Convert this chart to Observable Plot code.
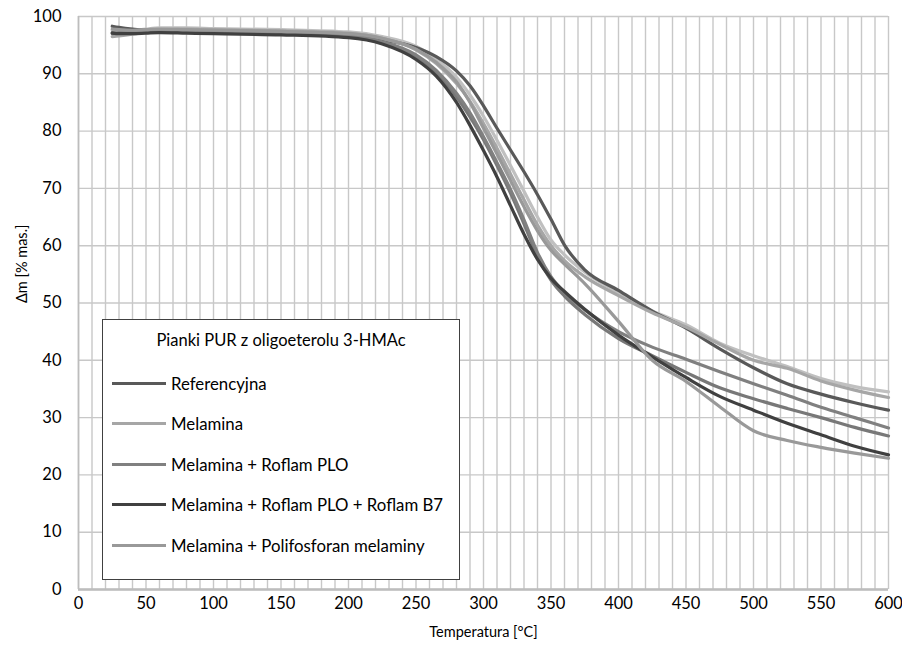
<!DOCTYPE html>
<html>
<head>
<meta charset="utf-8">
<script src="https://cdn.jsdelivr.net/npm/d3@7"></script>
<script src="https://cdn.jsdelivr.net/npm/@observablehq/plot@0.6"></script>
<style>
  html, body { margin: 0; padding: 0; background: #fff; }
  #wrap { position: relative; width: 902px; height: 659px; font-family: Lato, "Open Sans", sans-serif; }
  #legend { position: absolute; left: 102px; top: 319px; width: 358px; height: 261px; background: #fff; border: 1px solid #404040; box-sizing: border-box; color: #000; }
  #legend .title { position: absolute; left: 0; width: 100%; top: 10px; text-align: center; font-size: 16.5px; }
  #legend .item { position: absolute; left: 9px; height: 22px; display: flex; align-items: center; font-size: 16.8px; white-space: nowrap; }
  #legend .sw { width: 54px; height: 3px; margin-right: 5px; }
</style>
</head>
<body>
<div id="wrap"></div>
<script>
// temperatures [°C]
const temps = [25,30,40,50,60,80,100,150,200,225,250,265,280,290,300,310,320,330,340,350,360,375,400,425,450,475,500,525,550,575,600];
// mass [% mas.] per series
const referencyjna = [98.3,98.1,97.8,97.6,97.5,97.3,97.2,97.0,96.6,95.9,94.6,93.0,90.5,87.9,84.4,80.5,76.7,72.9,68.9,64.6,60.1,55.8,52.2,48.6,45.6,42.0,38.7,35.9,34.1,32.6,31.3];
const melamina = [96.5,96.6,96.9,97.3,97.7,97.8,97.7,97.5,97.1,96.2,94.2,91.8,88.3,85.2,81.3,77.0,72.5,68.0,63.6,60.0,57.4,54.6,51.3,48.3,45.8,42.8,40.0,38.6,36.4,34.8,33.5];
const melaminaB = [97.6,97.4,97.5,97.8,98.0,98.0,97.9,97.7,97.3,96.5,94.8,92.6,89.4,86.3,82.6,78.4,74.0,69.5,65.0,61.0,58.4,55.4,51.8,48.6,46.2,43.0,40.8,38.9,36.8,35.4,34.5];
const melPlo = [97.0,97.2,97.4,97.5,97.5,97.4,97.3,97.1,96.6,95.6,93.3,90.6,86.6,83.2,79.0,74.5,69.8,64.5,58.8,54.6,51.8,48.8,45.0,42.3,40.2,38.0,35.9,33.9,31.8,30.0,28.2];
const melPloB = [97.2,97.0,97.2,97.4,97.4,97.3,97.2,97.0,96.5,95.5,93.0,90.2,86.0,82.5,78.5,74.0,69.2,63.8,58.2,54.0,51.2,48.0,43.8,40.8,37.9,35.2,33.3,31.6,30.0,28.3,26.8];
const melPloB7 = [97.1,97.0,97.0,97.1,97.2,97.1,97.0,96.8,96.3,95.2,92.5,89.6,85.0,81.0,76.6,72.0,67.0,62.0,57.6,54.3,52.0,48.9,44.4,40.6,37.0,33.7,31.3,29.0,27.0,25.0,23.5];
const melPoli = [97.8,97.7,97.6,97.7,97.8,97.7,97.6,97.4,97.0,96.2,94.3,92.0,88.6,85.0,80.5,76.0,71.4,66.8,62.6,59.2,56.8,53.4,46.8,40.0,36.3,31.9,27.7,26.0,24.8,23.8,22.9];

const seriesNames = ["Melamina (2)", "Melamina + Roflam PLO (2)", "Referencyjna", "Melamina", "Melamina + Roflam PLO", "Melamina + Roflam PLO + Roflam B7", "Melamina + Polifosforan melaminy"];
const seriesValues = [melaminaB, melPloB, referencyjna, melamina, melPlo, melPloB7, melPoli];
const seriesColors = ["#c0c0c0", "#787878", "#595959", "#a6a6a6", "#808080", "#404040", "#999999"];
const legendNames = ["Referencyjna", "Melamina", "Melamina + Roflam PLO", "Melamina + Roflam PLO + Roflam B7", "Melamina + Polifosforan melaminy"];
const legendTitle = "Pianki PUR z oligoeterolu 3-HMAc";
const xTicks = d3.range(0, 601, 50);
const yTicks = d3.range(0, 101, 10);
const xGrid = d3.range(0, 601, 10);
const xTitle = "Temperatura [°C]";
const yTitle = "Δm [% mas.]";

const rows = [];
seriesNames.forEach((name, i) => {
  temps.forEach((t, j) => rows.push({series: name, t, m: seriesValues[i][j]}));
});

const chart = Plot.plot({
  width: 902,
  height: 659,
  marginLeft: 78,
  marginRight: 14,
  marginTop: 16,
  marginBottom: 70,
  style: {fontFamily: "Lato, 'Open Sans', sans-serif", fontSize: "16px", color: "#000", background: "#fff"},
  x: {domain: [0, 600]},
  y: {domain: [0, 100]},
  color: {domain: seriesNames, range: seriesColors},
  marks: [
    Plot.gridX(xGrid, {stroke: "#c8c8c8", strokeOpacity: 1, strokeWidth: 1.4}),
    Plot.gridY(yTicks, {stroke: "#c8c8c8", strokeOpacity: 1, strokeWidth: 1.4}),
    Plot.ruleY([0], {stroke: "#bdbdbd", strokeWidth: 2.4}),
    Plot.ruleX([0], {stroke: "#bdbdbd", strokeWidth: 1.6}),
    Plot.axisX(xTicks, {tickSize: 0, tickPadding: 8, label: null, fontSize: 16.5}),
    Plot.axisY(yTicks, {tickSize: 0, tickPadding: 17, label: null, fontSize: 16.5}),
    Plot.line(rows, {x: "t", y: "m", z: "series", stroke: "series", strokeWidth: 3.2, curve: "monotone-x"}),
    Plot.text([xTitle], {frameAnchor: "bottom", dy: 47, fontSize: 14.5, text: d => d}),
    Plot.text([yTitle], {frameAnchor: "left", dx: -56, rotate: -90, fontSize: 14.5, text: d => d})
  ]
});

const wrap = document.getElementById("wrap");
wrap.appendChild(chart);

const legend = document.createElement("div");
legend.id = "legend";
const title = document.createElement("div");
title.className = "title";
title.textContent = legendTitle;
legend.appendChild(title);
legendNames.forEach((name, i) => {
  const item = document.createElement("div");
  item.className = "item";
  item.style.top = (52 + i * 40.5) + "px";
  const sw = document.createElement("div");
  sw.className = "sw";
  sw.style.background = seriesColors[seriesNames.indexOf(name)];
  const lab = document.createElement("span");
  lab.textContent = name;
  item.appendChild(sw);
  item.appendChild(lab);
  legend.appendChild(item);
});
wrap.appendChild(legend);
</script>
</body>
</html>
